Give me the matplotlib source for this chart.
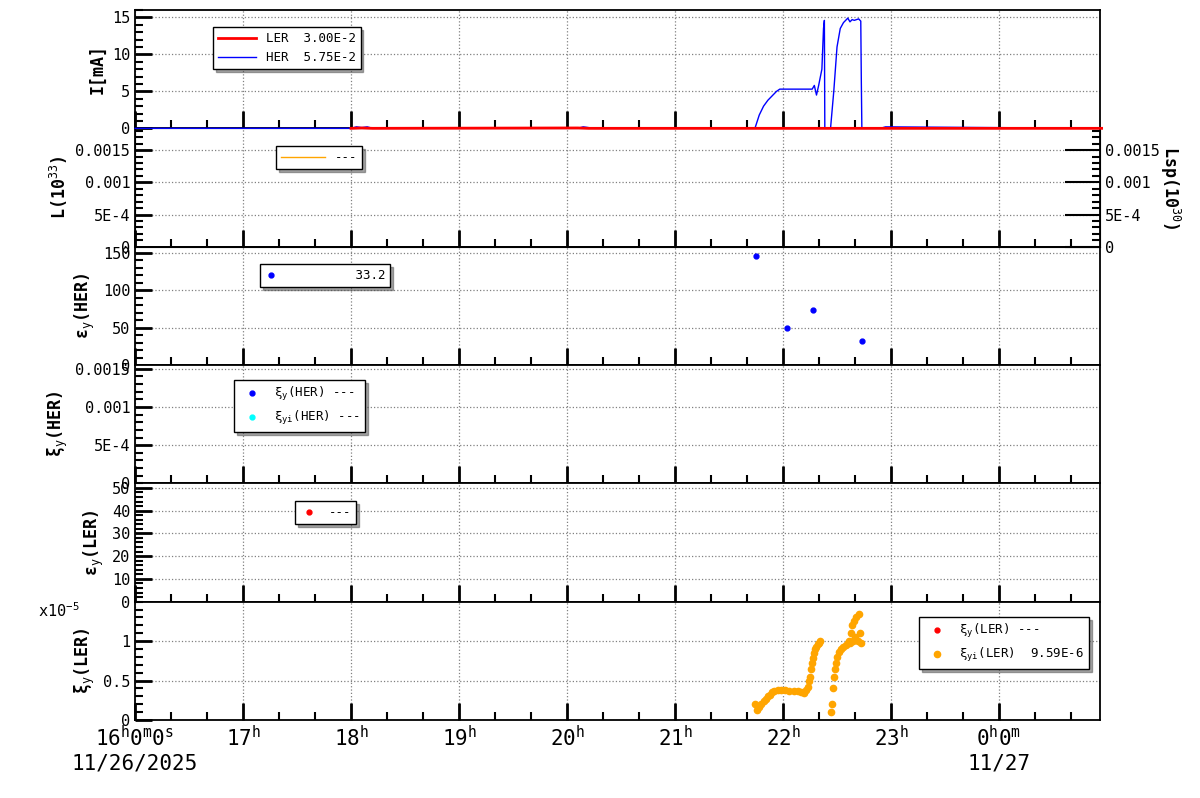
import numpy as np
import matplotlib.pyplot as plt
from matplotlib.ticker import MultipleLocator, FixedLocator

plt.rcParams['font.family'] = ['DejaVu Sans Mono', 'DejaVu Sans']
plt.rcParams['mathtext.fontset'] = 'custom'
plt.rcParams['mathtext.rm'] = 'DejaVu Sans Mono'
plt.rcParams['mathtext.it'] = 'DejaVu Sans Mono'

# time in hours since 0h 11/26
her_t = [16.0, 18.0, 18.05, 18.1, 18.15, 18.2, 20.1, 20.15, 20.2, 20.25, 21.74, 21.78, 21.82,
         21.86, 21.9, 21.94, 21.97, 22.1, 22.27, 22.29, 22.31, 22.33, 22.36, 22.375, 22.383,
         22.387, 22.44, 22.47, 22.5, 22.53, 22.56, 22.6, 22.62, 22.64, 22.66, 22.7, 22.72,
         22.725, 22.73, 22.9, 22.95, 24.95]
her_i = [0.0, 0.0, 0.2, 0.1, 0.2, 0.0, 0.0, 0.2, 0.1, 0.0, 0.0, 1.8, 3.0,
         3.8, 4.4, 5.0, 5.3, 5.3, 5.3, 5.8, 4.5, 5.8, 8.0, 13.5, 14.6,
         0.0, 0.0, 5.0, 11.0, 13.5, 14.3, 14.9, 14.4, 14.7, 14.6, 14.8, 14.5,
         6.5, 0.0, 0.0, 0.2, 0.0]
ler_t = [18.0, 18.1, 18.2, 20.1, 20.2, 24.95]
ler_i = [0.0, 0.05, 0.0, 0.05, 0.0, 0.0]

emit_her_t = [21.75, 22.04, 22.28, 22.73]
emit_her_v = [145, 50, 74, 32]

# xi_yi(LER) in units of 1e-5
xi_t = [21.74, 21.76, 21.78, 21.8, 21.82, 21.84, 21.86, 21.88, 21.9, 21.92, 21.95, 21.98,
        22.02, 22.06, 22.1, 22.14, 22.17, 22.19, 22.21, 22.23, 22.24, 22.25, 22.26, 22.27,
        22.28, 22.29, 22.3, 22.31, 22.32, 22.33, 22.34,
        22.44, 22.45, 22.46, 22.47, 22.48, 22.49, 22.5, 22.52, 22.54, 22.56, 22.58,
        22.6, 22.61, 22.62, 22.63, 22.64, 22.65, 22.66, 22.67, 22.68, 22.69, 22.7, 22.71, 22.72]
xi_v = [0.2, 0.13, 0.17, 0.2, 0.24, 0.27, 0.3, 0.32, 0.35, 0.37, 0.38, 0.38,
        0.38, 0.37, 0.37, 0.37, 0.36, 0.34, 0.38, 0.42, 0.5, 0.55, 0.65, 0.72,
        0.78, 0.85, 0.9, 0.93, 0.96, 0.98, 1.0,
        0.1, 0.2, 0.4, 0.55, 0.65, 0.72, 0.8, 0.86, 0.9, 0.93, 0.95,
        0.97, 1.0, 0.98, 1.1, 1.2, 1.0, 1.25, 1.05, 1.3, 1.0, 1.35, 1.1, 0.98]

hour_ticks = [16, 17, 18, 19, 20, 21, 22, 23, 24]
hour_labels = ['16$^{h}$0$^{m}$0$^{s}$\n11/26/2025', '17$^{h}$', '18$^{h}$', '19$^{h}$',
               '20$^{h}$', '21$^{h}$', '22$^{h}$', '23$^{h}$', '0$^{h}$0$^{m}$\n11/27']

fig = plt.figure(figsize=(12, 7.98), dpi=100)
left, right, top, bottom = 135 / 1200, 1100 / 1200, 1 - 10 / 798, 1 - 720 / 798
h = (top - bottom) / 6
axes = [fig.add_axes([left, top - (i + 1) * h, right - left, h]) for i in range(6)]

ylims = [(0, 16), (0, 0.00184), (0, 158), (0, 0.00155), (0, 52), (0, 1.5)]
majors = [[0, 5, 10, 15], [0, 5e-4, 1e-3, 1.5e-3], [0, 50, 100, 150],
          [0, 5e-4, 1e-3, 1.5e-3], [0, 10, 20, 30, 40, 50], [0, 0.5, 1.0]]
ylabs = [['0', '5', '10', '15'], ['0', '5E-4', '0.001', '0.0015'], ['0', '50', '100', '150'],
         ['0', '5E-4', '0.001', '0.0015'], ['0', '10', '20', '30', '40', '50'], ['0', '0.5', '1']]
names = ['I[mA]', 'L(10$^{33}$)', 'ε$_{y}$(HER)', 'ξ$_{y}$(HER)',
         'ε$_{y}$(LER)', 'ξ$_{y}$(LER)']

for i, ax in enumerate(axes):
    ax.set_xlim(16, 24.935)
    ax.set_ylim(*ylims[i])
    ax.xaxis.set_major_locator(FixedLocator(hour_ticks))
    ax.xaxis.set_minor_locator(MultipleLocator(1 / 3))
    ax.yaxis.set_major_locator(FixedLocator(majors[i]))
    ax.yaxis.set_minor_locator(MultipleLocator(majors[i][1] / 5))
    ax.set_yticklabels(ylabs[i])
    ax.tick_params(which='both', direction='in', top=False, labelsize=11)
    ax.tick_params(which='major', length=12, width=2)
    ax.tick_params(which='minor', length=6, width=1.5)
    ax.grid(True, which='major', linestyle=':', color='gray', linewidth=0.9)
    for s in ax.spines.values():
        s.set_linewidth(1.3)
    ax.set_ylabel(names[i], fontsize=12, fontweight='bold')
    if i < 5:
        ax.set_xticklabels([])
    else:
        ax.set_xticklabels(hour_labels, fontsize=15)

leg_kw = dict(loc='upper left', fancybox=False, shadow=True, edgecolor='black',
              framealpha=1, fontsize=9, borderaxespad=0)

def anchor(x, y, row):
    ytop = 10 + row * 118.33
    return ((x - 135) / 965, 1 - (y - ytop) / 118.33)

ax = axes[0]
ax.set_zorder(10)
ax.plot(her_t, her_i, color='blue', lw=1, label='HER  5.75E-2', clip_on=False, zorder=5)
ax.plot(ler_t, ler_i, color='red', lw=2, label='LER  3.00E-2', clip_on=False, zorder=6)
ax.set_xlim(16, 24.935)
hs, ls = ax.get_legend_handles_labels()
ax.legend(hs[::-1], ls[::-1], bbox_to_anchor=anchor(213, 27, 0), handlelength=3, **leg_kw)

ax = axes[1]
ax.plot([], [], color='orange', lw=1, label='---')
ax.legend(bbox_to_anchor=anchor(276, 146, 1), handlelength=3.5, **leg_kw)
ax2 = ax.twinx()
ax2.set_ylim(*ylims[1])
ax2.yaxis.set_major_locator(FixedLocator(majors[1]))
ax2.yaxis.set_minor_locator(MultipleLocator(1e-4))
ax2.set_yticklabels(ylabs[1])
ax2.tick_params(which='both', direction='in', labelsize=11)
ax2.tick_params(which='major', length=25, width=1.5)
ax2.tick_params(which='minor', length=6, width=1.5)
ax2.set_ylabel('Lsp(10$^{30}$)', fontsize=12, fontweight='bold', rotation=-90, labelpad=16)

ax = axes[2]
ax.plot(emit_her_t, emit_her_v, 'o', color='blue', ms=3.5, label='         33.2')
ax.legend(bbox_to_anchor=anchor(260, 264, 2), handlelength=1, **leg_kw)

ax = axes[3]
ax.plot([], [], 'o', color='blue', ms=3.5, label='ξ$_{y}$(HER) ---')
ax.plot([], [], 'o', color='cyan', ms=3.5, label='ξ$_{yi}$(HER) ---')
ax.legend(bbox_to_anchor=anchor(234, 380, 3), handlelength=2, **leg_kw)

ax = axes[4]
ax.plot([], [], 'o', color='red', ms=3.5, label='---')
ax.legend(bbox_to_anchor=anchor(295, 501, 4), handlelength=1.5, **leg_kw)

ax = axes[5]
ax.plot([], [], 'o', color='red', ms=3.5, label='ξ$_{y}$(LER) ---')
ax.plot(xi_t, xi_v, 'o', color='orange', ms=4.5, label='ξ$_{yi}$(LER)  9.59E-6')
ax.legend(bbox_to_anchor=anchor(919, 617, 5), handlelength=2, **leg_kw)
ax.text(-0.1, 1.0, 'x10$^{-5}$', transform=ax.transAxes, fontsize=11, va='top')

fig.savefig('out.png', dpi=100)
